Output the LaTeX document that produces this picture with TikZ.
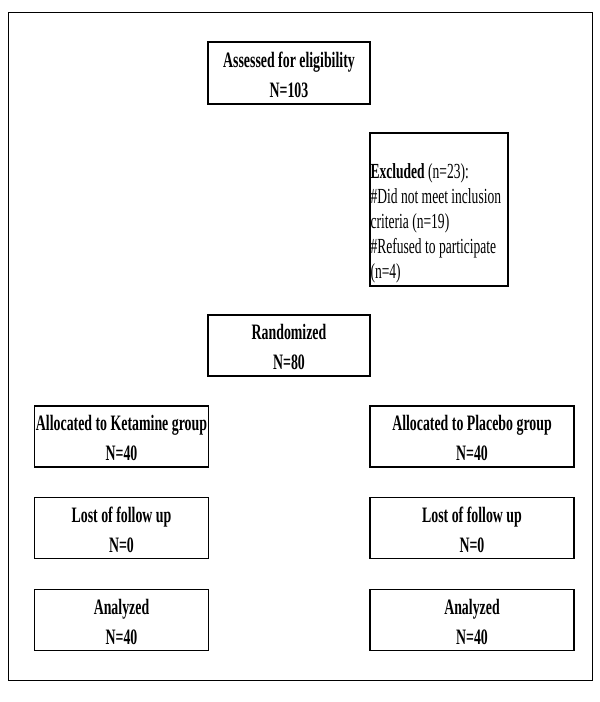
\documentclass[tikz,border=0pt]{standalone}
\usepackage{fontspec}
\setmainfont{Liberation Serif}[FakeStretch=0.63]
\newcommand\topstrut{\rule{0pt}{18.6pt}}
\tikzset{
  box/.style={draw, line width=1.3pt, inner sep=0pt, align=center,
    font=\bfseries\fontsize{22}{30}\selectfont, minimum height=61pt},
  frm/.style={draw, line width=1pt, inner sep=0pt}
}
\begin{document}
\begin{tikzpicture}[x=1pt,y=1pt]
\useasboundingbox (0,0) rectangle (600,-702);
\node[frm, minimum width=584pt, minimum height=668pt] (frame) at (300,-346) {};
\node[box, minimum width=162pt, minimum height=62pt] (assess) at (289,-73) {\topstrut Assessed for eligibility\\N=103};
\node[draw, line width=1.3pt, inner sep=0pt, minimum width=138pt, minimum height=153pt] (excl) at (439,-209.5) {};
\node[anchor=north west, inner sep=0pt, align=left, font=\fontsize{21.5}{25}\selectfont] (excltext) at ([xshift=1pt,yshift=-27.4pt]excl.north west) {\topstrut\textbf{Excluded} (n=23):\\\#Did not meet inclusion\\criteria (n=19)\\\#Refused to participate\\(n=4)};
\node[box, minimum width=162pt] (rand) at (289,-345.5) {\topstrut Randomized\\N=80};
\node[box, minimum width=174pt] (allk) at (121.5,-436.5) {\topstrut Allocated to Ketamine group\\N=40};
\node[box, minimum width=204pt] (allp) at (472,-436.5) {\topstrut Allocated to Placebo group\\N=40};
\node[box, minimum width=174pt] (lostk) at (121.5,-528) {\topstrut Lost of follow up\\N=0};
\node[box, minimum width=204pt] (lostp) at (472,-528) {\topstrut Lost of follow up\\N=0};
\node[box, minimum width=174pt] (anak) at (121.5,-620) {\topstrut Analyzed\\N=40};
\node[box, minimum width=204pt] (anap) at (472,-620) {\topstrut Analyzed\\N=40};
\end{tikzpicture}
\end{document}
